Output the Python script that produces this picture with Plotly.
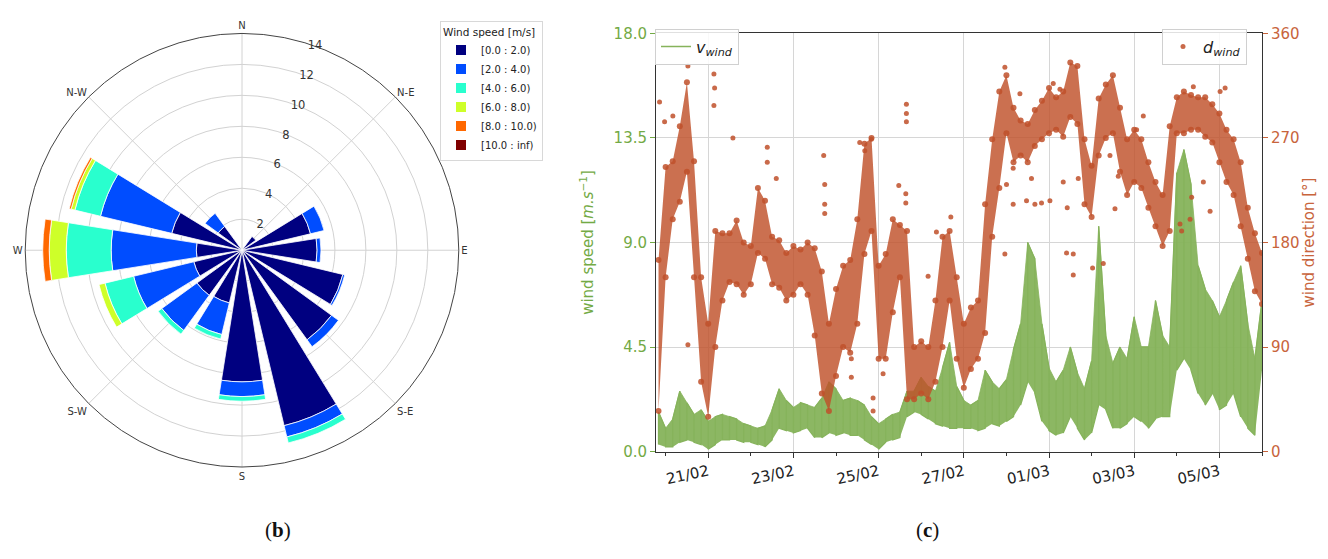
import plotly.graph_objects as go
import pandas as pd

# ---------------- (b) wind rose data ----------------
directions = [0, 22.5, 45, 67.5, 90, 112.5, 135, 157.5, 180, 202.5, 225, 247.5, 270, 292.5, 315, 337.5]
dir_ticks = [0, 45, 90, 135, 180, 225, 270, 315]
dir_labels = ["N", "N-E", "E", "S-E", "S", "S-W", "W", "N-W"]
speed_bins = ["[0.0 : 2.0)", "[2.0 : 4.0)", "[4.0 : 6.0)", "[6.0 : 8.0)", "[8.0 : 10.0)", "[10.0 : inf)"]
bin_colors = ["#000080", "#004dff", "#29ffce", "#ceff29", "#ff6800", "#800000"]
freq_0_2 = [0, 0, 1.1, 4.55, 4.85, 6.7, 7.15, 11.65, 8.5, 3.5, 3.6, 3.2, 2.95, 4.67, 1.9, 0]
freq_2_4 = [0, 0, 0, 0.9, 0.25, 0.12, 0.55, 0.75, 0.95, 2.1, 2.8, 4.0, 5.5, 4.73, 1.05, 0]
freq_4_6 = [0, 0, 0, 0, 0, 0, 0, 0.4, 0.3, 0.3, 0.3, 1.9, 2.9, 1.7, 0, 0]
freq_6_8 = [0, 0, 0, 0, 0, 0, 0, 0, 0, 0, 0, 0.4, 1.1, 0.25, 0, 0]
freq_8_10 = [0, 0, 0, 0, 0, 0, 0, 0, 0, 0, 0, 0, 0.42, 0.13, 0, 0]
freq_10_inf = [0, 0, 0, 0, 0, 0, 0, 0, 0, 0, 0, 0, 0, 0, 0, 0]
radial_ticks = [2, 4, 6, 8, 10, 12, 14]

# ---------------- (c) time series data ----------------
sample_start = "2019-02-19 20:00"   # readings every 4 hours
speed_low = [0.3, 0.2, 0.2, 0.4, 0.5, 0.4, 0.3, 0.1, 0.3, 0.5, 0.5, 0.5, 0.4, 0.4, 0.3, 0.2,
             0.5, 1.0, 0.9, 0.8, 0.9, 1.0, 0.6, 0.6, 0.8, 0.7, 0.8, 0.7, 0.7, 0.5, 0.3, 0.1,
             0.4, 0.5, 0.6, 1.5, 1.7, 1.6, 1.4, 1.2, 1.1, 1.0, 1.0, 1.0, 1.0, 0.9, 1.0, 1.2,
             1.1, 1.3, 1.5, 2.0, 3.0, 2.5, 1.3, 0.9, 0.7, 0.8, 1.5, 1.0, 0.5, 0.8, 2.0, 1.8,
             1.0, 1.0, 1.2, 1.5, 1.3, 1.0, 1.4, 1.5, 1.5, 3.5, 4.0, 3.5, 2.5, 2.0, 2.5, 1.8,
             2.0, 2.5, 1.5, 1.0, 0.7, 3.5]
speed_high = [1.7, 1.0, 1.4, 2.6, 2.1, 1.6, 1.8, 1.3, 1.5, 1.6, 1.5, 1.4, 1.2, 1.1, 1.0, 1.1,
              1.8, 2.7, 2.2, 1.9, 2.1, 2.0, 1.9, 2.3, 3.0, 2.7, 2.2, 2.3, 2.2, 2.0, 1.5, 1.2,
              1.4, 1.6, 1.7, 2.6, 2.6, 3.2, 2.8, 2.6, 3.6, 4.7, 2.8, 2.2, 2.0, 2.2, 3.5, 3.0,
              2.7, 3.1, 4.4, 5.5, 9.0, 8.3, 5.5, 3.6, 3.0, 3.5, 4.5, 3.4, 2.7, 3.9, 9.7, 5.0,
              3.8, 4.5, 4.0, 5.8, 4.5, 4.5, 6.5, 5.0, 4.5, 12.0, 13.0, 11.5, 8.0, 7.0, 6.5, 5.8,
              6.5, 7.3, 8.0, 5.5, 4.0, 6.5]
dir_low = [35, 150, 200, 215, 241, 150, 60, 30, 90, 130, 146, 144, 135, 144, 171, 166,
           144, 141, 130, 135, 144, 135, 100, 50, 35, 65, 90, 85, 110, 170, 190, 80,
           80, 120, 150, 45, 45, 50, 45, 60, 90, 130, 80, 55, 71, 80, 102, 185,
           227, 274, 249, 255, 249, 263, 269, 274, 277, 271, 288, 282, 213, 202, 255, 270,
           274, 241, 221, 232, 227, 210, 194, 177, 190, 274, 274, 277, 277, 271, 266, 249,
           232, 221, 194, 166, 138, 127]
dir_high = [165, 245, 250, 280, 318, 250, 150, 110, 190, 188, 188, 199, 180, 177, 227, 216,
            185, 182, 171, 177, 174, 180, 175, 155, 110, 140, 160, 165, 200, 265, 270, 160,
            170, 200, 195, 190, 90, 95, 90, 130, 185, 190, 150, 110, 124, 130, 213, 269,
            310, 324, 296, 285, 282, 294, 302, 313, 305, 310, 335, 332, 269, 246, 304, 316,
            324, 296, 269, 277, 269, 249, 232, 221, 280, 305, 310, 307, 305, 305, 299, 291,
            277, 269, 249, 210, 188, 171]
scatter_times = ["2019-02-19 20:35", "2019-02-19 23:25", "2019-02-20 04:05", "2019-02-20 12:33",
                 "2019-02-20 12:33", "2019-02-21 03:13", "2019-02-21 03:36", "2019-02-21 03:13",
                 "2019-02-21 13:55", "2019-02-22 09:16", "2019-02-22 09:16", "2019-02-22 14:21",
                 "2019-02-23 17:04", "2019-02-23 17:38", "2019-02-23 17:38", "2019-02-23 17:38",
                 "2019-02-24 13:22", "2019-02-24 16:12", "2019-02-24 19:55", "2019-02-24 08:38",
                 "2019-02-24 08:38", "2019-02-24 20:53", "2019-02-24 20:53", "2019-02-25 02:31",
                 "2019-02-25 11:22", "2019-02-25 15:19", "2019-02-25 15:19", "2019-02-25 15:39",
                 "2019-02-25 15:39", "2019-02-25 15:39", "2019-02-26 03:53", "2019-02-26 08:34",
                 "2019-02-26 16:41", "2019-02-27 23:08", "2019-02-28 00:03", "2019-02-28 03:49",
                 "2019-02-28 03:49", "2019-02-28 07:36", "2019-02-28 11:20", "2019-02-28 14:08",
                 "2019-02-28 16:03", "2019-02-28 19:47", "2019-03-01 00:31", "2019-03-01 02:23",
                 "2019-03-01 06:10", "2019-03-01 08:01", "2019-03-01 10:16", "2019-03-01 09:53",
                 "2019-03-01 13:40", "2019-03-01 13:40", "2019-03-01 16:29", "2019-03-02 00:33",
                 "2019-02-27 23:08", "2019-03-02 06:35", "2019-03-02 10:21", "2019-03-02 13:10",
                 "2019-03-02 15:01", "2019-03-03 01:21", "2019-03-03 05:08", "2019-03-04 01:49",
                 "2019-03-04 02:44", "2019-03-04 07:28", "2019-03-04 08:22", "2019-03-04 14:58",
                 "2019-03-04 18:45", "2019-03-04 09:19", "2019-03-05 00:23", "2019-03-05 03:13"]
scatter_dirs = [301, 284, 289, 332, 92, 325, 313, 298, 270, 262, 249, 235,
                255, 230, 213, 205, 266, 259, 269, 80, 64, 46, 35, 67,
                229, 222, 214, 299, 291, 284, 151, 189, 202, 331, 230, 213,
                244, 308, 216, 235, 213, 214, 216, 317, 312, 232, 210, 171,
                170, 152, 235, 158, 170, 162, 255, 209, 237, 277, 289, 196,
                190, 200, 219, 232, 207, 314, 310, 313]
date_ticks = ["2019-02-21", "2019-02-23", "2019-02-25", "2019-02-27", "2019-03-01", "2019-03-03", "2019-03-05"]
date_labels = ["21/02", "23/02", "25/02", "27/02", "01/03", "03/03", "05/03"]
speed_ticks = [0, 4.5, 9, 13.5, 18]
speed_labels = ["0.0", "4.5", "9.0", "13.5", "18.0"]
dir_axis_ticks = [0, 90, 180, 270, 360]

GREEN = "#86b35b"
GREEN_TXT = "#73aa45"
BROWN = "#c0502a"
BROWN_TXT = "#c8643c"
FONT = "DejaVu Sans"

fig = go.Figure()

# ---- wind rose ----
bins = [freq_0_2, freq_2_4, freq_4_6, freq_6_8, freq_8_10, freq_10_inf]
for name, col, vals in zip(speed_bins, bin_colors, bins):
    fig.add_trace(go.Barpolar(
        r=vals, theta=directions, width=[18] * len(directions), name=name,
        marker=dict(color=col, line=dict(color="white", width=0.8)),
        legend="legend2", subplot="polar"))

# ---- time series ----
times = pd.date_range(sample_start, periods=len(speed_low), freq="4h")
zig_x, zig_y = [], []
for i, t in enumerate(times):
    zig_x += [t, t]
    if i % 2 == 0:
        zig_y += [speed_low[i], speed_high[i]]
    else:
        zig_y += [speed_high[i], speed_low[i]]

fig.add_trace(go.Scatter(x=times, y=speed_low, mode="lines", line=dict(width=0, color=GREEN),
                         showlegend=False, hoverinfo="skip", xaxis="x", yaxis="y"))
fig.add_trace(go.Scatter(x=times, y=speed_high, mode="lines", line=dict(width=0.8, color=GREEN),
                         fill="tonexty", fillcolor="rgba(134,179,91,0.95)",
                         showlegend=False, hoverinfo="skip", xaxis="x", yaxis="y"))
fig.add_trace(go.Scatter(x=zig_x, y=zig_y, mode="lines", line=dict(width=1.3, color=GREEN),
                         name="<i>v</i><sub><i>wind</i></sub>", legend="legend",
                         xaxis="x", yaxis="y"))

fig.add_trace(go.Scatter(x=times, y=dir_low, mode="markers+lines",
                         line=dict(width=0, color=BROWN),
                         marker=dict(size=6, color=BROWN, opacity=0.85),
                         showlegend=False, hoverinfo="skip", xaxis="x", yaxis="y2"))
fig.add_trace(go.Scatter(x=times, y=dir_high, mode="markers+lines",
                         line=dict(width=0, color=BROWN),
                         marker=dict(size=6, color=BROWN, opacity=0.85),
                         fill="tonexty", fillcolor="rgba(192,80,42,0.82)",
                         showlegend=False, hoverinfo="skip", xaxis="x", yaxis="y2"))
fig.add_trace(go.Scatter(x=scatter_times, y=scatter_dirs, mode="markers",
                         marker=dict(size=5, color=BROWN, opacity=0.85),
                         name="<i>d</i><sub><i>wind</i></sub>", legend="legend3",
                         xaxis="x", yaxis="y2"))

W, H = 1328, 559
fig.update_layout(
    width=W, height=H, margin=dict(l=0, r=0, t=0, b=0),
    paper_bgcolor="white", plot_bgcolor="white",
    font=dict(family=FONT, color="#222"),
    polar=dict(
        domain=dict(x=[10 / W, 458 / W], y=[1 - 465 / H, 1 - 17 / H]),
        bgcolor="white", barmode="stack",
        angularaxis=dict(rotation=90, direction="clockwise", tickmode="array",
                         tickvals=dir_ticks, ticktext=dir_labels, ticks="",
                         showline=True, linecolor="#444", linewidth=1,
                         gridcolor="#d2d2d2", tickfont=dict(size=10, color="#333")),
        radialaxis=dict(range=[0, 14], tickvals=radial_ticks, ticks="", showline=False,
                        gridcolor="#d2d2d2", angle=74, tickangle=74,
                        tickfont=dict(size=11.5, color="#333")),
    ),
    xaxis=dict(domain=[648 / W, 1254 / W], anchor="y", type="date",
               range=["2019-02-19 18:35", "2019-03-06 00:00"],
               tickmode="array", tickvals=date_ticks, ticktext=date_labels, tickangle=-12,
               ticks="outside", ticklen=5, tickcolor="#333",
               tickfont=dict(size=15, color="#222"),
               showline=True, linecolor="#333", linewidth=1, mirror=True,
               showgrid=True, gridcolor="#d6d6d6", gridwidth=1,
               minor=dict(ticks="outside", ticklen=3, tickcolor="#333",
                          dtick=86400000, tick0="2019-02-20", showgrid=False)),
    yaxis=dict(domain=[1 - 449 / H, 1 - 17 / H], anchor="x", range=[0, 18],
               tickmode="array", tickvals=speed_ticks, ticktext=speed_labels,
               ticks="outside", ticklen=5, tickcolor=GREEN_TXT,
               tickfont=dict(size=15, color=GREEN_TXT),
               title=dict(text="wind speed [<i>m.s</i><sup>−1</sup>]",
                          font=dict(size=15, color=GREEN_TXT), standoff=16),
               showline=True, linecolor="#333", linewidth=1,
               showgrid=True, gridcolor="#d6d6d6", zeroline=False),
    yaxis2=dict(overlaying="y", side="right", anchor="x", range=[0, 360],
                tickmode="array", tickvals=dir_axis_ticks,
                ticks="outside", ticklen=5, tickcolor=BROWN_TXT,
                tickfont=dict(size=15, color=BROWN_TXT),
                title=dict(text="wind direction [°]", font=dict(size=15, color=BROWN_TXT),
                           standoff=2),
                showline=True, linecolor="#333", linewidth=1,
                showgrid=False, zeroline=False),
    legend=dict(x=647 / W, y=1 - 12 / H, xanchor="left", yanchor="top",
                bgcolor="rgba(255,255,255,0.85)", bordercolor="#d0d0d0", borderwidth=1,
                font=dict(size=16, color="#222")),
    legend2=dict(x=432 / W, y=1 - 4 / H, xanchor="left", yanchor="top",
                 title=dict(text="Wind speed [m/s]", font=dict(size=10.5, color="#222")),
                 bgcolor="white", bordercolor="#d8d8d8", borderwidth=1,
                 font=dict(size=10, color="#222"), tracegroupgap=0, itemsizing="constant"),
    legend3=dict(x=1239 / W, y=1 - 12 / H, xanchor="right", yanchor="top",
                 bgcolor="rgba(255,255,255,0.85)", bordercolor="#d0d0d0", borderwidth=1,
                 font=dict(size=16, color="#222")),
    annotations=[
        dict(text="(<b>b</b>)", x=255 / W, y=1 - 545 / H, xref="paper", yref="paper",
             showarrow=False, font=dict(family="Liberation Serif", size=21, color="#111")),
        dict(text="(<b>c</b>)", x=933 / W, y=1 - 545 / H, xref="paper", yref="paper",
             showarrow=False, font=dict(family="Liberation Serif", size=21, color="#111")),
    ],
)

fig.write_html("out.html")
